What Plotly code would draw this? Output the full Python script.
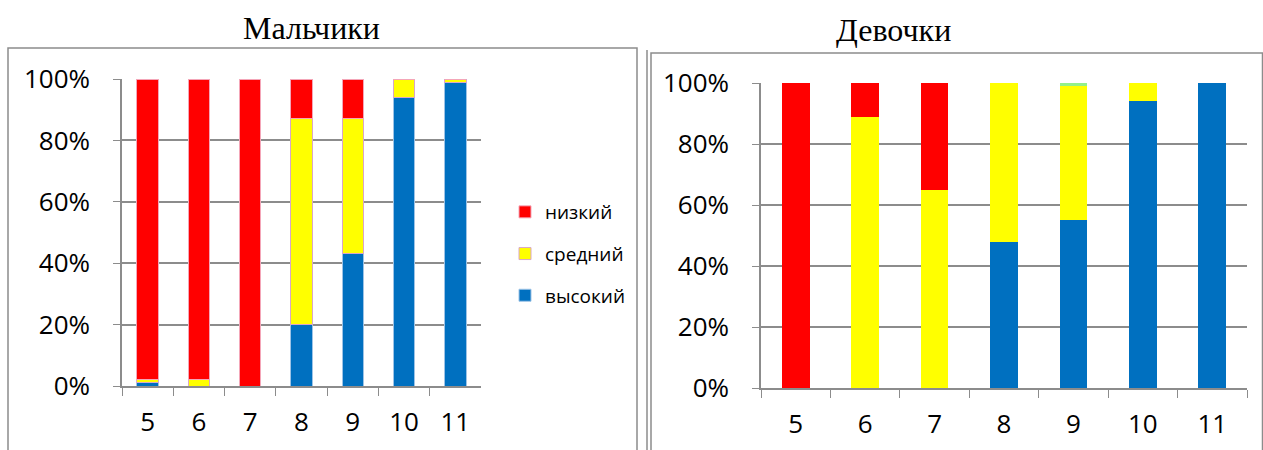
import plotly.graph_objects as go

grades = ["5", "6", "7", "8", "9", "10", "11"]
levels = ["высокий", "средний", "низкий"]

boys_high = [1, 0, 0, 20, 43, 94, 99]
boys_mid = [1, 2, 0, 67, 44, 6, 1]
boys_low = [98, 98, 100, 13, 13, 0, 0]

girls_high = [0, 0, 0, 48, 55, 94, 100]
girls_mid = [0, 89, 65, 52, 44, 6, 0]
girls_low = [100, 11, 35, 0, 0, 0, 0]
girls_other = [0, 0, 0, 0, 1, 0, 0]

colors = {"высокий": "#0070C0", "средний": "#FFFF00", "низкий": "#FF0000"}
edges = {"высокий": "#9DC3E6", "средний": "#D9A6C8", "низкий": "#F4A6B8"}
ranks = {"низкий": 1, "средний": 2, "высокий": 3}

fig = go.Figure()

boys = {"высокий": boys_high, "средний": boys_mid, "низкий": boys_low}
girls = {"высокий": girls_high, "средний": girls_mid, "низкий": girls_low}

for lv in levels:
    fig.add_trace(go.Bar(x=grades, y=boys[lv], name=lv, legendgroup=lv, legendrank=ranks[lv],
                         marker=dict(color=colors[lv], line=dict(color=edges[lv], width=1)),
                         width=0.42, xaxis="x", yaxis="y"))
for lv in levels:
    fig.add_trace(go.Bar(x=grades, y=girls[lv], name=lv, legendgroup=lv, showlegend=False,
                         marker=dict(color=colors[lv], line=dict(color=colors[lv], width=0)),
                         width=0.4, xaxis="x2", yaxis="y2"))
fig.add_trace(go.Bar(x=grades, y=girls_other, name="", showlegend=False,
                     marker=dict(color="#92F08A", line=dict(width=0)),
                     width=0.4, xaxis="x2", yaxis="y2"))

W, H = 1263, 450
axis_font = dict(family="Open Sans, Noto Sans, sans-serif", size=26, color="#000000")
common_y = dict(range=[0, 100], tickvals=[0, 20, 40, 60, 80, 100],
                ticktext=["0%", "20%", "40%", "60%", "80%", "100%"],
                showgrid=True, gridcolor="#8C8C8C", gridwidth=1.5,
                showline=True, linecolor="#8C8C8C", linewidth=1.5,
                ticks="outside", ticklen=7, tickcolor="#8C8C8C", ticklabelstandoff=18,
                tickfont=axis_font, zeroline=False, fixedrange=True, automargin=False)
common_x = dict(type="category", showline=True, linecolor="#8C8C8C", linewidth=1.5,
                ticks="outside", tickson="boundaries", ticklen=8, tickcolor="#8C8C8C",
                ticklabelstandoff=12,
                tickfont=axis_font, showgrid=False, automargin=False)

fig.update_layout(
    width=W, height=H,
    margin=dict(l=0, r=0, t=0, b=0, autoexpand=False),
    paper_bgcolor="white", plot_bgcolor="white",
    barmode="stack",
    bargap=0.6,
    xaxis=dict(domain=[122 / W, 481 / W], anchor="y", **common_x),
    yaxis=dict(domain=[64 / H, 371 / H], anchor="x", **common_y),
    xaxis2=dict(domain=[761 / W, 1247 / W], anchor="y2", **common_x),
    yaxis2=dict(domain=[62 / H, 367 / H], anchor="x2", **common_y),
    showlegend=True,
    legend=dict(x=505 / W, y=1 - 193 / H, xanchor="left", yanchor="top",
                traceorder="grouped", tracegroupgap=14,
                font=dict(family="Open Sans, Noto Sans, sans-serif", size=19, color="#000000"),
                itemwidth=30, bgcolor="rgba(0,0,0,0)"),
    annotations=[
        dict(text="Мальчики", x=311 / W, y=1 - 28 / H, xref="paper", yref="paper",
             showarrow=False, xanchor="center", yanchor="middle",
             font=dict(family="Liberation Serif, serif", size=32, color="#000000")),
        dict(text="Девочки", x=893 / W, y=1 - 30 / H, xref="paper", yref="paper",
             showarrow=False, xanchor="center", yanchor="middle",
             font=dict(family="Liberation Serif, serif", size=32, color="#000000")),
    ],
    shapes=[
        dict(type="rect", xref="paper", yref="paper", x0=8 / W, x1=637 / W,
             y0=-0.05, y1=1 - 48 / H, line=dict(color="#8C8C8C", width=1.5)),
        dict(type="line", xref="paper", yref="paper", x0=647 / W, x1=647 / W,
             y0=-0.05, y1=1 - 50 / H, line=dict(color="#8C8C8C", width=1.5)),
        dict(type="rect", xref="paper", yref="paper", x0=651 / W, x1=1262.5 / W,
             y0=-0.05, y1=1 - 53 / H, line=dict(color="#8C8C8C", width=1.5)),
    ],
)

fig.write_html("out.html")
